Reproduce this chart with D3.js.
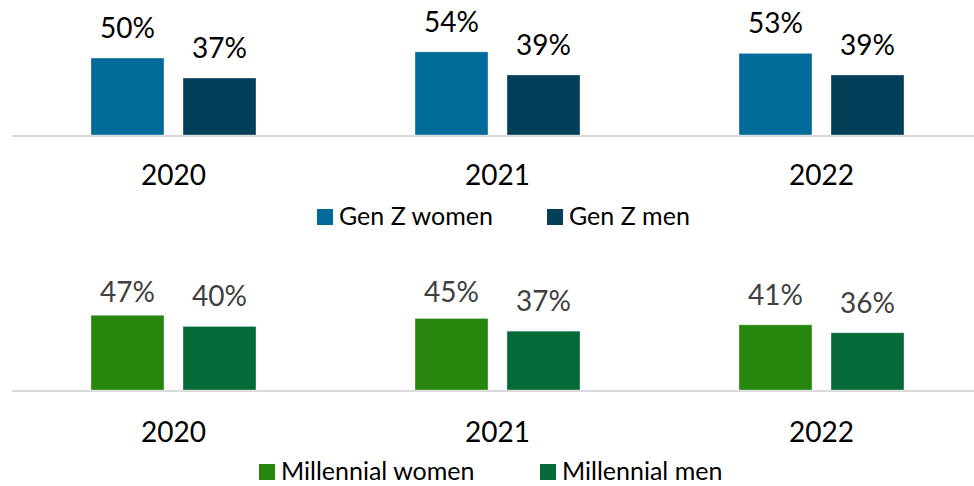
<!DOCTYPE html>
<html>
<head>
<meta charset="utf-8">
<script src="https://cdn.jsdelivr.net/npm/d3@7"></script>
<style>
  body { margin: 0; background: #fff; }
  svg text { font-family: Lato, "Open Sans", sans-serif; }
</style>
</head>
<body>
<div id="chart"></div>
<script>
const years = ['2020', '2021', '2022']
const genZWomen = [50, 54, 53]
const genZMen = [37, 39, 39]
const millWomen = [47, 45, 41]
const millMen = [40, 37, 36]

const width = 974
const height = 486

const svg = d3.select('#chart')
  .append('svg')
  .attr('width', width)
  .attr('height', height)

function drawPanel(opts) {
  const g = svg.append('g')
  const x0 = d3.scaleBand().domain(years).range([11.5, 983.5])
  const x1 = d3.scaleBand().domain([0, 1]).range([-82.5, 82.5]).paddingInner(19 / 92)
  const y = d3.scaleLinear().domain([0, 100]).range([opts.base, opts.base - opts.pxPer * 100])

  // baseline
  g.append('line')
    .attr('x1', 12).attr('x2', width)
    .attr('y1', opts.base + 1).attr('y2', opts.base + 1)
    .attr('stroke', '#d9d9d9')
    .attr('stroke-width', 2)

  const rows = years.map((yr, i) => ({ year: yr, vals: opts.series.map(s => s[i]) }))

  const grp = g.selectAll('.grp')
    .data(rows)
    .join('g')
    .attr('transform', d => `translate(${x0(d.year) + x0.bandwidth() / 2},0)`)

  grp.selectAll('rect')
    .data(d => d.vals.map((v, k) => ({ v, k })))
    .join('rect')
    .attr('x', d => x1(d.k))
    .attr('width', x1.bandwidth())
    .attr('y', d => y(d.v))
    .attr('height', d => y(0) - y(d.v))
    .attr('fill', d => opts.colors[d.k])
    .attr('stroke', 'rgba(255,255,255,0.35)')
    .attr('stroke-width', 1)

  grp.selectAll('text.val')
    .data(d => d.vals.map((v, k) => ({ v, k })))
    .join('text')
    .attr('class', 'val')
    .attr('x', d => x1(d.k) + x1.bandwidth() / 2)
    .attr('y', d => Math.max(y(d.v) - 20, opts.minLabel))
    .attr('text-anchor', 'middle')
    .attr('font-size', 28)
    .attr('fill', opts.labelColor)
    .text(d => d.v + '%')

  // category axis labels
  const ax = g.append('g')
    .attr('transform', `translate(0,${opts.catY})`)
    .call(d3.axisBottom(x0).tickSize(0).tickPadding(0))
  ax.select('.domain').remove()
  ax.selectAll('text')
    .attr('font-size', 28)
    .attr('fill', '#000')
    .attr('dy', 0)
    .style('font-family', 'Lato, sans-serif')

  // legend
  const leg = g.append('g')
  opts.names.forEach((name, k) => {
    leg.append('rect')
      .attr('x', opts.legX[k])
      .attr('y', opts.legY - 16)
      .attr('width', 16)
      .attr('height', 16)
      .attr('fill', opts.colors[k])
    leg.append('text')
      .attr('x', opts.legX[k] + 22)
      .attr('y', opts.legY)
      .attr('font-size', 25)
      .attr('fill', '#000')
      .text(name)
  })
}

drawPanel({
  series: [genZWomen, genZMen],
  colors: ['#006b98', '#023f58'],
  names: ['Gen Z women', 'Gen Z men'],
  base: 135,
  pxPer: 1.54,
  minLabel: 0,
  labelColor: '#000',
  catY: 185,
  legX: [317, 547],
  legY: 225
})

drawPanel({
  series: [millWomen, millMen],
  colors: ['#27860e', '#046a38'],
  names: ['Millennial women', 'Millennial men'],
  base: 390,
  pxPer: 1.59,
  minLabel: 302,
  labelColor: '#404040',
  catY: 442,
  legX: [259, 540],
  legY: 480
})
</script>
</body>
</html>
